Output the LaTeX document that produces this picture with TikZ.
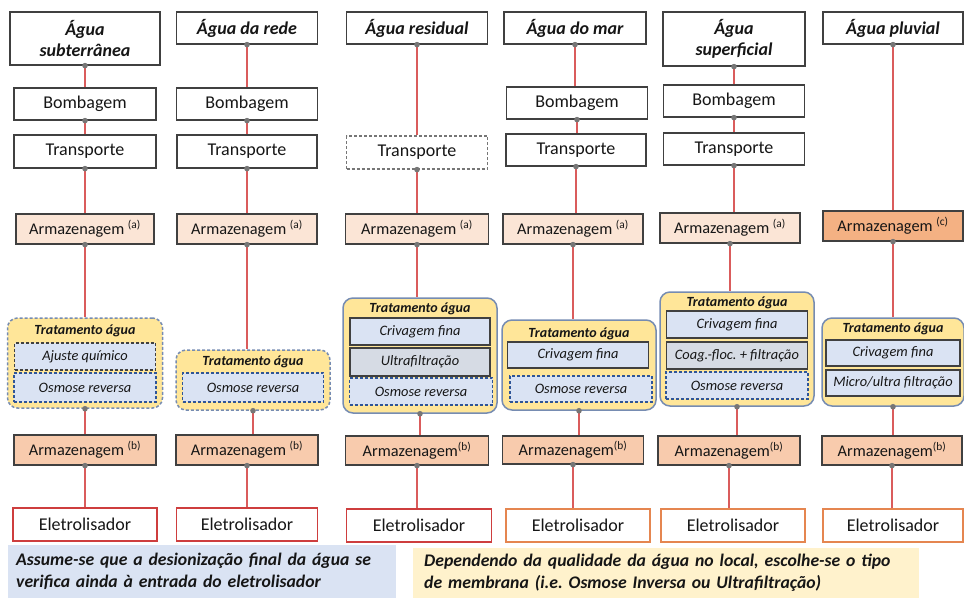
\documentclass[tikz,border=0pt]{standalone}
\usepackage{fontspec}
\setmainfont{Carlito}
\frenchspacing

\definecolor{lineRed}{RGB}{218,92,92}
\definecolor{boxEdge}{RGB}{64,64,64}
\definecolor{storeA}{RGB}{251,229,214}
\definecolor{storeB}{RGB}{248,203,173}
\definecolor{storeC}{RGB}{244,177,131}
\definecolor{treatFill}{RGB}{255,230,153}
\definecolor{treatEdge}{RGB}{118,140,178}
\definecolor{stepFill}{RGB}{218,227,243}
\definecolor{stepGrey}{RGB}{214,219,228}
\definecolor{osmoEdge}{RGB}{47,85,151}
\definecolor{elecRed}{RGB}{206,62,62}
\definecolor{elecOrange}{RGB}{229,134,80}
\definecolor{dotGrey}{RGB}{118,118,118}
\definecolor{noteBlue}{RGB}{218,227,243}
\definecolor{noteYellow}{RGB}{255,242,204}
\definecolor{inkGrey}{RGB}{22,22,22}

\tikzset{box_size/.style 2 args={minimum width=#1, minimum height=#2}}

\begin{document}
\begin{tikzpicture}[x=1pt, y=-1pt, inner sep=0pt, text=inkGrey]
    \tikzstyle{head_style} = [draw=boxEdge, line width=1.2, fill=white, align=center, font=\fontsize{18}{21}\selectfont\bfseries\itshape]
    \tikzstyle{step_style} = [draw=boxEdge, line width=1.2, fill=white, font=\fontsize{18}{20}\selectfont]
    \tikzstyle{step_dash_style} = [step_style, draw=dotGrey, dash pattern=on 3pt off 2pt]
    \tikzstyle{store_style} = [draw=boxEdge, line width=1.2, font=\fontsize{16.3}{18}\selectfont]
    \tikzstyle{treat_style} = [draw=treatEdge, line width=1.5, fill=treatFill, rounded corners=10]
    \tikzstyle{treat_dash_style} = [treat_style, dash pattern=on 3pt off 2pt]
    \tikzstyle{title_style} = [font=\fontsize{14}{16}\selectfont\bfseries\itshape]
    \tikzstyle{sub_style} = [draw=boxEdge, line width=1.2, fill=stepFill, font=\fontsize{14.4}{16}\selectfont\itshape]
    \tikzstyle{osmo_style} = [sub_style, draw=osmoEdge, dash pattern=on 3pt off 2pt]
    \tikzstyle{elec_style} = [line width=1.2, fill=white, font=\fontsize{18}{20}\selectfont]
    \tikzstyle{line_style} = [lineRed, line width=1.5]
    \tikzstyle{dot_style} = [fill=dotGrey]
    \tikzstyle{note_style} = [anchor=north west, align=left, font=\fontsize{17.7}{22}\selectfont\bfseries\itshape]

    \useasboundingbox (0,0) rectangle (964,598);

    % subterranea
    \node[head_style, box_size={150}{53}] (h1) at (85,38.5) {Água\\subterrânea};
    \node[step_style, box_size={142}{32}] (b1) at (85,104) {Bombagem};
    \node[step_style, box_size={142}{33}] (t1) at (85,151.5) {Transporte};
    \node[store_style, fill=storeA, box_size={138}{30}] (sa1) at (85,229) {Armazenagem \textsuperscript{(a)}};
    \node[treat_dash_style, box_size={155}{90}] (tr1) at (85,363) {};
    \node[title_style] (tt1) at (85,331) {Tratamento água};
    \node[sub_style, draw=boxEdge, dash pattern=on 3pt off 2pt, box_size={141}{27}] (s1a) at (85,356.5) {Ajuste químico};
    \node[osmo_style, box_size={142}{29}] (s1b) at (85,387.5) {Osmose reversa};
    \node[store_style, fill=storeB, box_size={142}{30}] (sb1) at (85,450) {Armazenagem \textsuperscript{(b)}};
    \node[elec_style, draw=elecRed, box_size={144}{33}] (e1) at (85,524.5) {Eletrolisador};

    % rede
    \node[head_style, box_size={141}{32}] (h2) at (247,28) {Água da rede};
    \node[step_style, box_size={141}{32}] (b2) at (247,104) {Bombagem};
    \node[step_style, box_size={140}{33}] (t2) at (247,151.5) {Transporte};
    \node[store_style, fill=storeA, box_size={140}{30}] (sa2) at (247,229) {Armazenagem \textsuperscript{(a)}};
    \node[treat_dash_style, box_size={154}{60}] (tr2) at (253,380) {};
    \node[title_style] (tt2) at (253,362) {Tratamento água};
    \node[osmo_style, box_size={141}{29}] (s2a) at (253,387.5) {Osmose reversa};
    \node[store_style, fill=storeB, box_size={142}{30}] (sb2) at (247,450) {Armazenagem \textsuperscript{(b)}};
    \node[elec_style, draw=elecRed, box_size={141}{33}] (e2) at (247,524.5) {Eletrolisador};

    % residual
    \node[head_style, box_size={141}{32}] (h3) at (417,28) {Água residual};
    \node[step_dash_style, box_size={141}{33}] (t3) at (417,152.5) {Transporte};
    \node[store_style, fill=storeA, box_size={143}{30}] (sa3) at (417,229) {Armazenagem \textsuperscript{(a)}};
    \node[treat_style, box_size={154}{115}] (tr3) at (420,355.5) {};
    \node[title_style] (tt3) at (420,309) {Tratamento água};
    \node[sub_style, box_size={140}{27}] (s3a) at (420,331.5) {Crivagem fina};
    \node[sub_style, fill=stepGrey, box_size={140}{28}] (s3b) at (420,362) {Ultrafiltração};
    \node[osmo_style, box_size={143}{27}] (s3c) at (421,391.5) {Osmose reversa};
    \node[store_style, fill=storeB, box_size={143}{29}] (sb3) at (417,450.5) {Armazenagem\textsuperscript{(b)}};
    \node[elec_style, draw=elecRed, box_size={145}{33}] (e3) at (419,525.5) {Eletrolisador};

    % mar
    \node[head_style, box_size={142}{32}] (h4) at (575,28) {Água do mar};
    \node[step_style, box_size={141}{32}] (b4) at (577,103) {Bombagem};
    \node[step_style, box_size={140}{32}] (t4) at (576,150) {Transporte};
    \node[store_style, fill=storeA, box_size={140}{30}] (sa4) at (573,229) {Armazenagem \textsuperscript{(a)}};
    \node[treat_style, box_size={154}{90}] (tr4) at (579,365) {};
    \node[title_style] (tt4) at (579,334) {Tratamento água};
    \node[sub_style, box_size={141}{26}] (s4a) at (578,355) {Crivagem fina};
    \node[osmo_style, box_size={142}{26}] (s4b) at (581,389) {Osmose reversa};
    \node[store_style, fill=storeB, box_size={141}{28}] (sb4) at (573,450) {Armazenagem\textsuperscript{(b)}};
    \node[elec_style, draw=elecOrange, box_size={144}{33}] (e4) at (578,525.5) {Eletrolisador};

    % superficial
    \node[head_style, box_size={142}{54}] (h5) at (734,39) {Água\\superficial};
    \node[step_style, box_size={141}{32}] (b5) at (734,101) {Bombagem};
    \node[step_style, box_size={141}{32}] (t5) at (734,149) {Transporte};
    \node[store_style, fill=storeA, box_size={140}{30}] (sa5) at (730,228) {Armazenagem \textsuperscript{(a)}};
    \node[treat_style, box_size={154}{114}] (tr5) at (737,349) {};
    \node[title_style] (tt5) at (737,303) {Tratamento água};
    \node[sub_style, box_size={141}{27}] (s5a) at (737,324.5) {Crivagem fina};
    \node[sub_style, fill=stepGrey, box_size={141}{27}] (s5b) at (737,355.5) {Coag.-floc. + filtração};
    \node[osmo_style, box_size={142}{27}] (s5c) at (737,385.5) {Osmose reversa};
    \node[store_style, fill=storeB, box_size={142}{29}] (sb5) at (729,450.5) {Armazenagem\textsuperscript{(b)}};
    \node[elec_style, draw=elecOrange, box_size={144}{33}] (e5) at (733,525.5) {Eletrolisador};

    % pluvial
    \node[head_style, box_size={140}{32}] (h6) at (893,28) {Água pluvial};
    \node[store_style, fill=storeC, box_size={140}{30}] (sa6) at (893,226) {Armazenagem \textsuperscript{(c)}};
    \node[treat_style, box_size={142}{88}] (tr6) at (893,362) {};
    \node[title_style] (tt6) at (893,329) {Tratamento água};
    \node[sub_style, box_size={134}{26}] (s6a) at (893,353) {Crivagem fina};
    \node[sub_style, box_size={134}{26}] (s6b) at (893,383) {Micro/ultra filtração};
    \node[store_style, fill=storeB, box_size={140}{29}] (sb6) at (892,450.5) {Armazenagem\textsuperscript{(b)}};
    \node[elec_style, draw=elecOrange, box_size={140}{33}] (e6) at (893,525.5) {Eletrolisador};

    % connectors, dot on the upper end
    \foreach \a/\b in {h1/b1, b1/t1, t1/sa1, sa1/tr1, tr1/sb1, sb1/e1,
                       h2/b2, b2/t2, t2/sa2, sa2/tr2, tr2/sb2, sb2/e2,
                       h3/t3, t3/sa3, sa3/tr3, tr3/sb3, sb3/e3,
                       h4/b4, b4/t4, t4/sa4, sa4/tr4, tr4/sb4, sb4/e4,
                       h5/b5, b5/t5, t5/sa5, sa5/tr5, tr5/sb5, sb5/e5,
                       h6/sa6, sa6/tr6, tr6/sb6, sb6/e6} {
        \draw[line_style] (\a.south) -- (\a.south |- \b.north);
        \fill[dot_style] (\a.south) circle (2.8);
    }

    % notes
    \node[note_style, fill=noteBlue, box_size={387}{53}, text width=372, inner xsep=8] (n1) at (8,545)
        {Assume-se que a desionização final da água se\\verifica ainda à entrada do eletrolisador};
    \node[note_style, fill=noteYellow, box_size={504}{50}, text width=484, inner xsep=11] (n2) at (413,548)
        {Dependendo da qualidade da água no local, escolhe-se o tipo\\de membrana (i.e. Osmose Inversa ou Ultrafiltração)};
\end{tikzpicture}
\end{document}
